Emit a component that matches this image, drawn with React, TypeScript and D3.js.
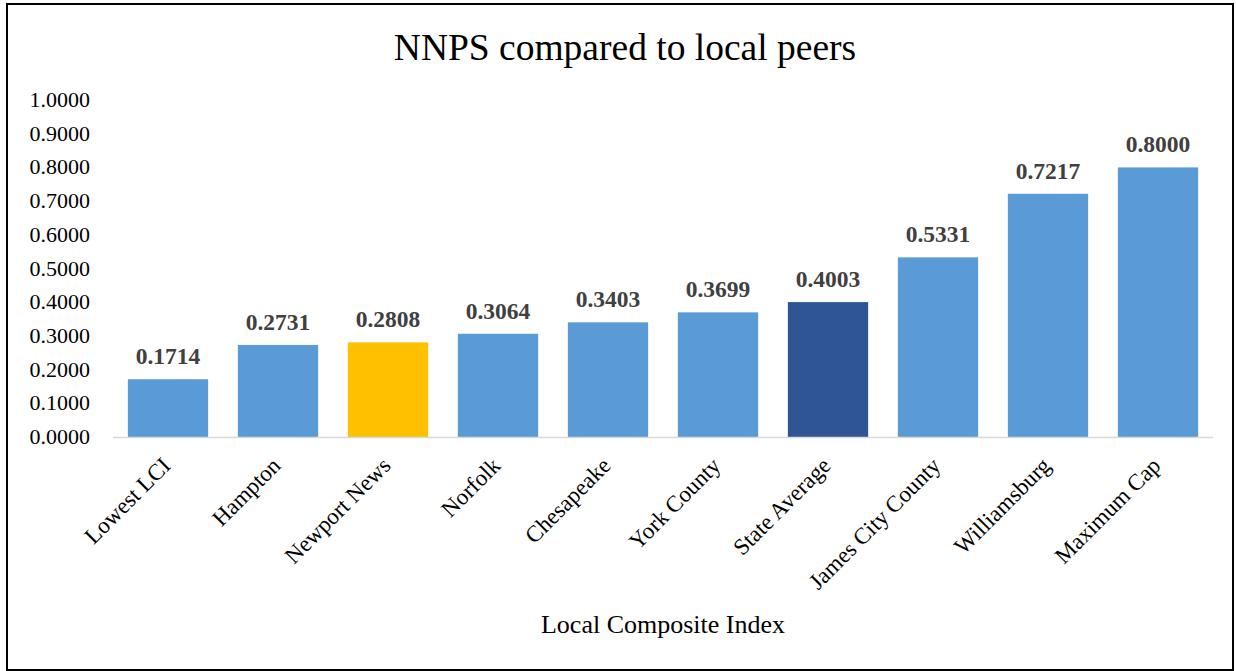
import { useEffect, useRef } from 'react';
import * as d3 from 'd3';

const categories = [
  'Lowest LCI', 'Hampton', 'Newport News', 'Norfolk', 'Chesapeake',
  'York County', 'State Average', 'James City County', 'Williamsburg', 'Maximum Cap',
];
const values = [0.1714, 0.2731, 0.2808, 0.3064, 0.3403, 0.3699, 0.4003, 0.5331, 0.7217, 0.8];
const yTicks = [0, 0.1, 0.2, 0.3, 0.4, 0.5, 0.6, 0.7, 0.8, 0.9, 1.0];

const BAR_COLORS: Record<string, string> = {
  'Newport News': '#FFC000',
  'State Average': '#2F5597',
};

export default function App() {
  const svgRef = useRef<SVGSVGElement>(null);

  useEffect(() => {
    if (!svgRef.current) return;
    const svg = d3.select(svgRef.current);
    svg.selectAll('*').remove();

    const W = 1236, H = 671;
    const font = '"Liberation Serif", "Times New Roman", serif';
    const left = 113, right = 1213, top = 100, bottom = 437;

    // frame
    svg.append('rect')
      .attr('x', 7).attr('y', 4).attr('width', W - 10).attr('height', H - 5)
      .attr('fill', '#fff').attr('stroke', '#000').attr('stroke-width', 2);

    svg.append('text')
      .attr('x', 625).attr('y', 60)
      .attr('text-anchor', 'middle')
      .attr('font-family', font).attr('font-size', 37.5)
      .attr('fill', '#000')
      .text('NNPS compared to local peers');

    const x = d3.scaleBand<string>().domain(categories).range([left, right]).paddingInner(0.27).paddingOuter(0.135);
    const y = d3.scaleLinear().domain([0, 1]).range([bottom, top]);

    const g = svg.append('g');

    // y tick labels
    g.selectAll('text.ytick')
      .data(yTicks)
      .join('text')
      .attr('class', 'ytick')
      .attr('x', 90).attr('y', (d) => y(d) + 7)
      .attr('text-anchor', 'end')
      .attr('font-family', font).attr('font-size', 22)
      .attr('fill', '#000')
      .text((d) => d3.format('.4f')(d));

    // bars
    g.selectAll('rect.bar')
      .data(values)
      .join('rect')
      .attr('class', 'bar')
      .attr('x', (_, i) => x(categories[i])!)
      .attr('y', (d) => y(d))
      .attr('width', x.bandwidth())
      .attr('height', (d) => bottom - y(d))
      .attr('fill', (_, i) => BAR_COLORS[categories[i]] ?? '#5B9BD5');

    // axis line
    g.append('line')
      .attr('x1', left).attr('x2', right)
      .attr('y1', bottom + 0.5).attr('y2', bottom + 0.5)
      .attr('stroke', '#D9D9D9').attr('stroke-width', 1.5);

    // data labels
    g.selectAll('text.lbl')
      .data(values)
      .join('text')
      .attr('class', 'lbl')
      .attr('x', (_, i) => x(categories[i])! + x.bandwidth() / 2)
      .attr('y', (d) => y(d) - 15)
      .attr('text-anchor', 'middle')
      .attr('font-family', font).attr('font-size', 23.5).attr('font-weight', 'bold')
      .attr('fill', '#404040')
      .text((d) => d3.format('.4f')(d));

    // category labels
    g.selectAll('text.cat')
      .data(categories)
      .join('text')
      .attr('class', 'cat')
      .attr('transform', (d) => `translate(${x(d)! + x.bandwidth() / 2 + 4},${bottom + 30}) rotate(-45)`)
      .attr('text-anchor', 'end')
      .attr('font-family', font).attr('font-size', 23)
      .attr('fill', '#000')
      .text((d) => d);

    svg.append('text')
      .attr('x', (left + right) / 2).attr('y', 633)
      .attr('text-anchor', 'middle')
      .attr('font-family', font).attr('font-size', 26)
      .attr('fill', '#000')
      .text('Local Composite Index');
  }, []);

  return <svg ref={svgRef} width={1236} height={671} style={{ display: 'block', position: 'absolute', left: 0, top: 0 }} />;
}
